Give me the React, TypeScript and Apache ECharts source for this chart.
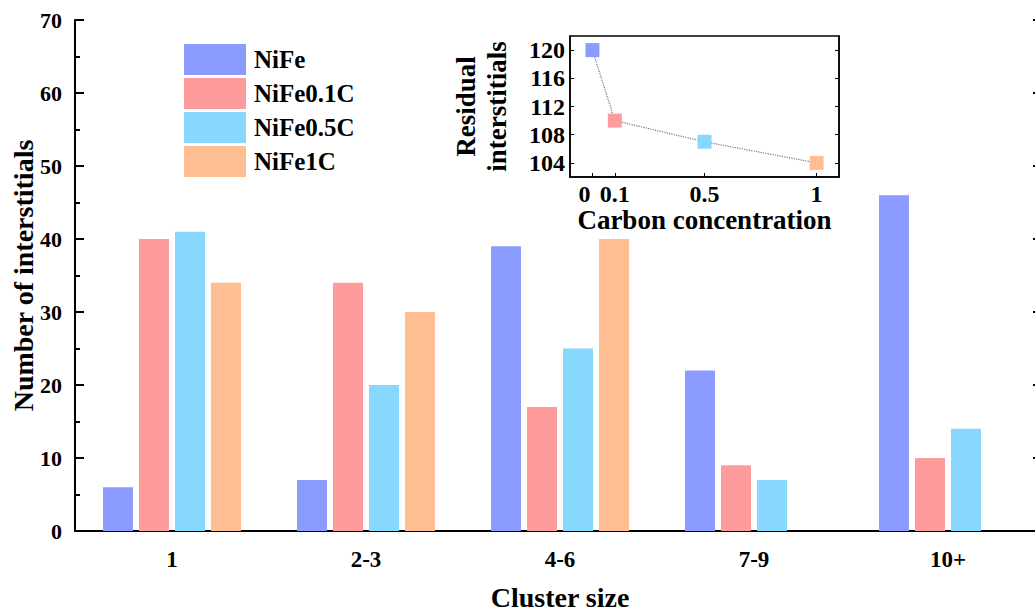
import React, { useEffect, useRef } from "react";
import * as echarts from "echarts";

const categories = ["1", "2-3", "4-6", "7-9", "10+"];
const seriesNames = ["NiFe", "NiFe0.1C", "NiFe0.5C", "NiFe1C"];
const nife = [6, 7, 39, 22, 46];
const nife01c = [40, 34, 17, 9, 10];
const nife05c = [41, 20, 25, 7, 14];
const nife1c: (number | null)[] = [34, 30, 40, null, null];
const colors = ["#8c9bff", "#ff9b9b", "#87d7ff", "#ffbe91"];
const carbon = [0, 0.1, 0.5, 1];
const residual = [120, 110, 107, 104];
const insetYTicks = [104, 108, 112, 116, 120];

const FONT = "Liberation Serif, Times New Roman, serif";

export default function App() {
  const ref = useRef<HTMLDivElement>(null);
  useEffect(() => {
    if (!ref.current) return;
    const chart = echarts.init(ref.current, null, { renderer: "svg" });
    const barData = [nife, nife01c, nife05c, nife1c];
    const option: any = {
      animation: false,
      backgroundColor: "#fff",
      textStyle: { fontFamily: FONT, color: "#000", fontWeight: "bold" },
      legend: {
        data: seriesNames,
        orient: "vertical",
        left: 184,
        top: 44,
        padding: 0,
        itemWidth: 62,
        itemHeight: 31,
        itemGap: 3,
        icon: "rect",
        textStyle: { fontFamily: FONT, fontSize: 25, fontWeight: "bold", color: "#000", padding: [0, 0, 0, 3] },
      },
      grid: [
        { left: 75, top: 20, right: 15, bottom: 82, containLabel: false, outerBoundsMode: "none" },
        {
          left: 570, top: 36, width: 269, height: 141, show: true, outerBoundsMode: "none",
          borderColor: "#000", borderWidth: 1.5, backgroundColor: "#fff", z: 5,
        },
      ],
      xAxis: [
        {
          type: "category", gridIndex: 0, data: categories,
          axisLine: { lineStyle: { color: "#000", width: 2 } },
          axisTick: { show: false },
          axisLabel: { fontFamily: FONT, fontSize: 23, fontWeight: "bold", color: "#000", margin: 17 },
          name: "Cluster size", nameLocation: "middle", nameGap: 52,
          nameTextStyle: { fontFamily: FONT, fontSize: 28, fontWeight: "bold", color: "#000" },
        },
        {
          type: "category", gridIndex: 0, data: categories, position: "top",
          axisLine: { lineStyle: { color: "#000", width: 2 } },
          axisTick: { show: false }, axisLabel: { show: false },
        },
        {
          type: "value", gridIndex: 1, min: -0.1, max: 1.1,
          splitLine: { show: false },
          axisLine: { onZero: false, lineStyle: { color: "#000", width: 1.5 } },
          axisTick: { show: true, inside: true, length: 4, customValues: carbon, lineStyle: { color: "#000" } },
          axisLabel: {
            customValues: carbon, fontFamily: FONT, fontSize: 24, fontWeight: "bold", color: "#000", margin: 5,
            formatter: (v: number) => (v === 0 ? "{z|0}" : String(v)),
            rich: { z: { fontFamily: FONT, fontSize: 24, fontWeight: "bold", color: "#000", padding: [0, 16, 0, 0] } },
          },
          name: "Carbon concentration", nameLocation: "middle", nameGap: 27,
          nameTextStyle: { fontFamily: FONT, fontSize: 27, fontWeight: "bold", color: "#000" },
          z: 6,
        },
      ],
      yAxis: [
        {
          type: "value", gridIndex: 0, min: 0, max: 70, interval: 10,
          splitLine: { show: false },
          axisLine: { show: true, lineStyle: { color: "#000", width: 2 } },
          axisTick: { show: true, inside: true, length: 9, lineStyle: { color: "#000", width: 2 } },
          minorTick: { show: true, splitNumber: 2, length: 5, lineStyle: { color: "#000", width: 2 } },
          axisLabel: { fontFamily: FONT, fontSize: 22, fontWeight: "bold", color: "#000", margin: 13 },
          name: "Number of interstitials", nameLocation: "middle", nameGap: 38, nameRotate: 90,
          nameMoveOverlap: false,
          nameTextStyle: { fontFamily: FONT, fontSize: 28, fontWeight: "bold", color: "#000" },
        },
        {
          type: "value", gridIndex: 0, min: 0, max: 70, interval: 10, position: "right",
          splitLine: { show: false },
          axisLine: { show: true, lineStyle: { color: "#000", width: 2 } },
          axisTick: { show: true, inside: true, length: 12, lineStyle: { color: "#000", width: 2 } },
          axisLabel: { show: false },
        },
        {
          type: "value", gridIndex: 1, min: 102, max: 122,
          splitLine: { show: false },
          axisLine: { show: true, onZero: false, lineStyle: { color: "#000", width: 1.5 } },
          axisTick: { show: true, inside: true, length: 4, customValues: insetYTicks, lineStyle: { color: "#000" } },
          axisLabel: { customValues: insetYTicks, fontFamily: FONT, fontSize: 24, fontWeight: "bold", color: "#000", margin: 5 },
          name: "Residual\ninterstitials", nameLocation: "middle", nameGap: 58, nameRotate: 90,
          nameTextStyle: { fontFamily: FONT, fontSize: 27, fontWeight: "bold", color: "#000", lineHeight: 31 },
          z: 6,
        },
        {
          type: "value", gridIndex: 1, min: 102, max: 122, position: "right",
          splitLine: { show: false },
          axisLine: { show: true, onZero: false, lineStyle: { color: "#000", width: 1.5 } },
          axisTick: { show: true, inside: true, length: 4, customValues: insetYTicks, lineStyle: { color: "#000" } },
          axisLabel: { show: false },
          z: 6,
        },
      ],
      series: [
        ...seriesNames.map((name, i) => ({
          name, type: "bar", xAxisIndex: 0, yAxisIndex: 0,
          data: barData[i], barWidth: 30, barGap: "20%",
          itemStyle: { color: colors[i] },
        })),
        {
          name: "Residual interstitials", type: "line", xAxisIndex: 2, yAxisIndex: 2,
          data: carbon.map((c, i) => ({ value: [c, residual[i]], itemStyle: { color: colors[i] } })),
          symbol: "rect", symbolSize: 14,
          lineStyle: { color: "#777", type: "dotted", width: 1.2 },
          z: 10,
        },
      ],
    };
    chart.setOption(option);
    return () => chart.dispose();
  }, []);
  return (
    <div style={{ position: "fixed", left: 0, top: 0, width: 1035, height: 613, overflow: "hidden", background: "#fff" }}>
      <div ref={ref} style={{ width: 1060, height: 613 }} />
    </div>
  );
}
